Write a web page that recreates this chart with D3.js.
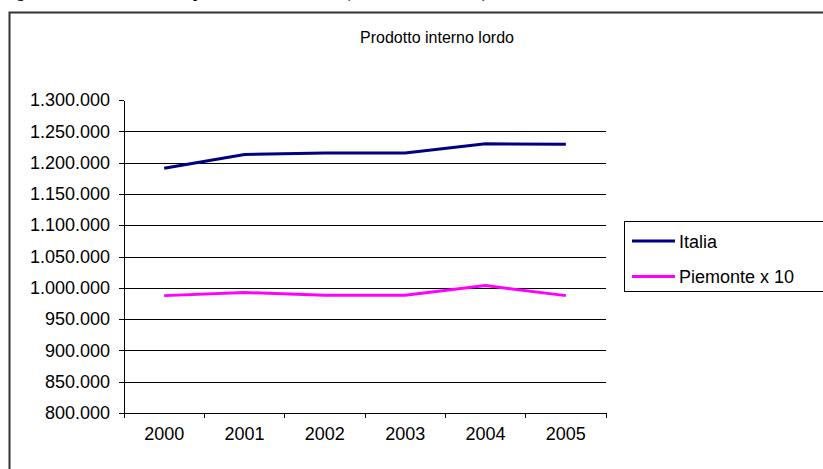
<!DOCTYPE html>
<html lang="it">
<head>
<meta charset="utf-8">
<title>Prodotto interno lordo</title>
<script src="https://cdnjs.cloudflare.com/ajax/libs/d3/7.8.5/d3.min.js"></script>
<style>
	body { margin:0; background:#fff; }
	svg { display:block; font-family:'Liberation Sans', Arial, sans-serif; }
	.axis path, .axis line { stroke:#000; shape-rendering:crispEdges; }
	.axis text { font-size:18px; fill:#000; }
	.grid line { stroke:#000; shape-rendering:crispEdges; }
</style>
</head>
<body>
<div id="chart"></div>
<script>
	// data
	var years = ["2000", "2001", "2002", "2003", "2004", "2005"];
	var italia = [1191000, 1213000, 1215500, 1215500, 1230000, 1229500];
	var piemonte = [987500, 992500, 988000, 988000, 1003500, 987500];
	var yTicks = [800000, 850000, 900000, 950000, 1000000, 1050000, 1100000, 1150000, 1200000, 1250000, 1300000];
	var seriesNames = ["Italia", "Piemonte x 10"];
	var seriesColors = ["#000080", "#ff00ff"];

	var width = 823, height = 469;
	var plotLeft = 124, plotRight = 606, plotTop = 100, plotBottom = 413;

	var svg = d3.select("#chart").append("svg")
		.attr("width", width)
		.attr("height", height);

	// caption of the document, cut off at the top of the picture
	svg.append("text")
		.attr("x", 3)
		.attr("y", -2)
		.attr("textLength", 484)
		.style("font-family", "'Liberation Serif', 'Times New Roman', serif")
		.style("font-weight", "bold")
		.style("font-size", "15px")
		.text("Figura 3 - Italia e Piemonte: prodotto interno lordo (milioni di euro 2000)");

	// outer chart border
	svg.append("rect")
		.attr("x", 9.5)
		.attr("y", 12.5)
		.attr("width", 830)
		.attr("height", 470)
		.attr("fill", "none")
		.attr("stroke", "#333")
		.attr("stroke-width", 2);

	svg.append("text")
		.attr("x", 437)
		.attr("y", 43)
		.attr("text-anchor", "middle")
		.style("font-size", "16px")
		.text("Prodotto interno lordo");

	var x = d3.scaleBand().domain(years).range([plotLeft, plotRight]);
	var y = d3.scaleLinear().domain([800000, 1300000]).range([plotBottom, plotTop]);

	var fmt = function(d) { return d3.format(",")(d).replace(/,/g, "."); };

	// gridlines
	svg.append("g").attr("class", "grid")
		.selectAll("line")
		.data(yTicks.filter(function(d) { return d > 800000 && d < 1300000; }))
		.enter().append("line")
		.attr("x1", plotLeft).attr("x2", plotRight)
		.attr("y1", function(d) { return Math.round(y(d)) + 0.5; })
		.attr("y2", function(d) { return Math.round(y(d)) + 0.5; });

	svg.append("g").attr("class", "axis")
		.attr("transform", "translate(" + plotLeft + ",0)")
		.call(d3.axisLeft(y).tickValues(yTicks).tickFormat(fmt).tickSize(5).tickPadding(9).tickSizeOuter(0));

	var xAxis = svg.append("g").attr("class", "axis")
		.attr("transform", "translate(0," + plotBottom + ")")
		.call(d3.axisBottom(x).tickSize(0).tickPadding(14).tickSizeOuter(0));
	// ticks between categories
	xAxis.selectAll(".sep")
		.data(years.concat(["end"]))
		.enter().append("line")
		.attr("class", "sep")
		.attr("x1", function(d, i) { return plotLeft + i * x.step(); })
		.attr("x2", function(d, i) { return plotLeft + i * x.step(); })
		.attr("y1", 0).attr("y2", 5);

	var line = d3.line()
		.x(function(d, i) { return x(years[i]) + x.bandwidth() / 2; })
		.y(function(d) { return y(d); });

	[italia, piemonte].forEach(function(s, i) {
		svg.append("path")
			.datum(s)
			.attr("d", line)
			.attr("fill", "none")
			.attr("stroke", seriesColors[i])
			.attr("stroke-width", 3);
	});

	// legend
	var lg = svg.append("g");
	lg.append("rect")
		.attr("x", 624.5).attr("y", 221.5)
		.attr("width", 220).attr("height", 70)
		.attr("fill", "#fff")
		.attr("stroke", "#000");
	seriesNames.forEach(function(n, i) {
		var ly = 241 + i * 35.5;
		lg.append("line")
			.attr("x1", 632).attr("x2", 675)
			.attr("y1", ly).attr("y2", ly)
			.attr("stroke", seriesColors[i])
			.attr("stroke-width", 3);
		lg.append("text")
			.attr("x", 679).attr("y", ly + 6.5)
			.style("font-size", "18px")
			.text(n);
	});
</script>
</body>
</html>
